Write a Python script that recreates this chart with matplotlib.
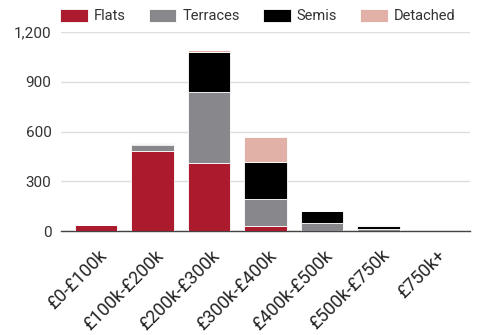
import matplotlib.pyplot as plt
import numpy as np

plt.rcParams['font.family'] = ['Roboto', 'DejaVu Sans']

bands = ['£0-£100k', '£100k-£200k', '£200k-£300k', '£300k-£400k',
         '£400k-£500k', '£500k-£750k', '£750k+']
flats = [35, 482, 408, 30, 3, 2, 0]
terraces = [2, 38, 434, 161, 47, 12, 1]
semis = [0, 8, 236, 229, 72, 20, 1]
detached = [0, 5, 14, 145, 2, 2, 1]

series = [('Flats', flats, '#ab1a2d'), ('Terraces', terraces, '#88888c'),
          ('Semis', semis, '#000000'), ('Detached', detached, '#e1b0a6')]

fig = plt.figure(figsize=(4.78, 3.35), dpi=100)
ax = fig.add_axes([0.128, 0.310, 0.855, 0.594])

x = np.arange(len(bands))
bottom = np.zeros(len(bands))
for name, vals, col in series:
    ax.bar(x, vals, 0.75, bottom=bottom, color=col, label=name,
           edgecolor='white', linewidth=0.6, zorder=3)
    bottom += np.array(vals)

ax.set_xlim(-0.62, len(bands) - 0.38)
ax.set_ylim(0, 1200)
ax.set_yticks([0, 300, 600, 900, 1200])
ax.set_yticklabels(['0', '300', '600', '900', '1,200'])
ax.yaxis.grid(True, color='#dddddd', linewidth=1, zorder=0)
ax.set_xticks(x + 0.03)
ax.set_xticklabels(bands, rotation=45, ha='right', rotation_mode='anchor')
ax.tick_params(axis='both', length=0, colors='#333333')
ax.tick_params(axis='y', pad=7, labelsize=11)
ax.tick_params(axis='x', pad=11, labelsize=13, colors='#222222')
for s in ['top', 'right', 'left']:
    ax.spines[s].set_visible(False)
ax.spines['bottom'].set_color('#444444')
ax.spines['bottom'].set_linewidth(1)

fig.legend(loc='center left', bbox_to_anchor=(60 / 478, 0.952), ncol=4, frameon=False,
           fontsize=10.5, handlelength=1.9, handleheight=0.95, columnspacing=1.6,
           handletextpad=0.4, borderpad=0, borderaxespad=0, labelcolor='#333333')

fig.savefig('out.png', dpi=100)
